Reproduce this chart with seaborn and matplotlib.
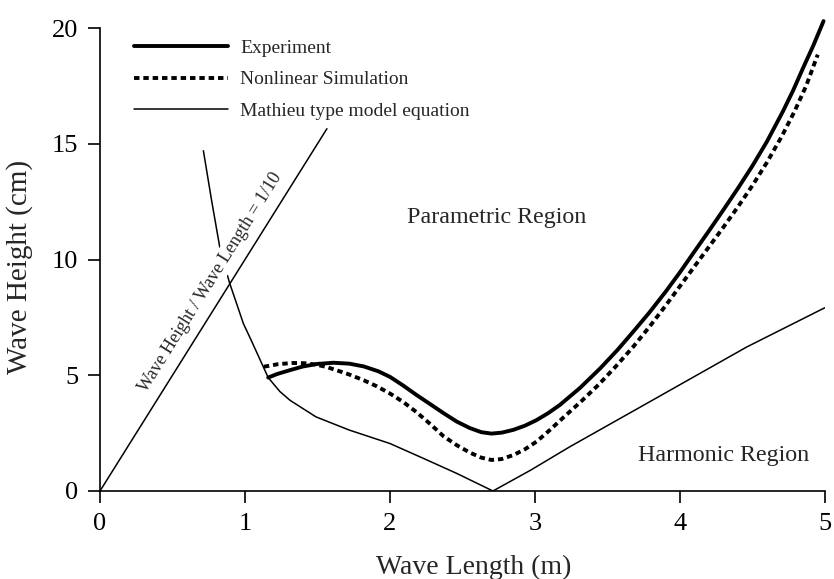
import matplotlib
matplotlib.use("Agg")
import matplotlib.pyplot as plt
import seaborn as sns

# wave height / wave length = 1/10 line
ratio_x = [0.0, 1.565]
ratio_y = [0.0, 15.65]

# experiment (thick solid)
exp_x = [1.16, 1.22, 1.31, 1.40, 1.50, 1.61, 1.72, 1.82, 1.92, 2.00, 2.09,
         2.18, 2.28, 2.37, 2.46, 2.55, 2.63, 2.70, 2.77, 2.85, 2.93, 3.01,
         3.09, 3.17, 3.31, 3.45, 3.57, 3.68, 3.79, 3.90, 4.00, 4.10, 4.20,
         4.30, 4.40, 4.50, 4.60, 4.71, 4.78, 4.85, 4.92, 4.99]
exp_y = [4.90, 5.05, 5.22, 5.38, 5.49, 5.54, 5.50, 5.38, 5.17, 4.93, 4.56,
         4.16, 3.74, 3.36, 3.00, 2.72, 2.54, 2.48, 2.52, 2.64, 2.82, 3.06,
         3.36, 3.71, 4.45, 5.30, 6.10, 6.90, 7.72, 8.60, 9.45, 10.35, 11.24,
         12.15, 13.08, 14.05, 15.10, 16.40, 17.30, 18.29, 19.25, 20.30]

# nonlinear simulation (dashed)
sim_x = [1.13, 1.23, 1.33, 1.41, 1.49, 1.56, 1.63, 1.72, 1.82, 1.91, 2.00,
         2.09, 2.18, 2.28, 2.37, 2.46, 2.55, 2.63, 2.70, 2.77, 2.85, 2.93,
         3.01, 3.10, 3.20, 3.32, 3.44, 3.56, 3.68, 3.79, 3.90, 4.00, 4.10,
         4.20, 4.30, 4.40, 4.50, 4.60, 4.70, 4.79, 4.87, 4.95]
sim_y = [5.37, 5.48, 5.53, 5.52, 5.46, 5.36, 5.22, 5.03, 4.78, 4.52, 4.21,
         3.85, 3.42, 2.88, 2.36, 1.98, 1.66, 1.44, 1.34, 1.38, 1.55, 1.80,
         2.13, 2.62, 3.20, 3.88, 4.60, 5.40, 6.25, 7.10, 8.00, 8.85, 9.70,
         10.55, 11.40, 12.28, 13.20, 14.20, 15.30, 16.40, 17.50, 18.85]

# Mathieu type model equation (thin solid)
mat_x = [0.713, 0.77, 0.828, 0.892, 0.95, 0.989, 1.04, 1.08, 1.12, 1.16, 1.24,
         1.31, 1.49, 1.72, 2.00, 2.23, 2.46, 2.71, 2.97, 3.24, 3.77, 4.46, 5.00]
mat_y = [14.70, 12.54, 10.46, 9.02, 7.95, 7.23, 6.55, 6.00, 5.45, 4.90, 4.30,
         3.92, 3.20, 2.63, 2.05, 1.41, 0.76, 0.00, 0.90, 1.91, 3.78, 6.22, 7.92]

x_ticks = [0, 1, 2, 3, 4, 5]
y_ticks = [0, 5, 10, 15, 20]

sns.set_style("ticks")
plt.rcParams["font.family"] = ["Liberation Serif", "DejaVu Serif"]

fig = plt.figure(figsize=(8.34, 5.79), dpi=100)
ax = fig.add_axes([0.1199, 0.152, 0.8693, 0.7996])

sns.lineplot(x=mat_x, y=mat_y, ax=ax, sort=False, estimator=None, color="black",
             lw=1.1, label="Mathieu type model equation", zorder=2)
sns.lineplot(x=ratio_x, y=ratio_y, ax=ax, sort=False, estimator=None, color="black",
             lw=1.1, zorder=4)
sns.lineplot(x=sim_x, y=sim_y, ax=ax, sort=False, estimator=None, color="black",
             lw=2.8, linestyle=(0, (1.4, 1.0)), label="Nonlinear Simulation", zorder=5,
             clip_on=False)
sns.lineplot(x=exp_x, y=exp_y, ax=ax, sort=False, estimator=None, color="black",
             lw=2.8, label="Experiment", zorder=5, clip_on=False)

ax.set_xlim(0, 5)
ax.set_ylim(0, 20)
ax.set_xticks(x_ticks)
ax.set_yticks(y_ticks)
ax.tick_params(direction="out", length=8.6, width=1.2, labelsize=19, pad=7,
               colors="black")
for side in ["top", "right"]:
    ax.spines[side].set_visible(False)
for side in ["left", "bottom"]:
    ax.spines[side].set_linewidth(1.2)
    ax.spines[side].set_color("black")

ax.set_xlabel("Wave Length (m)", fontsize=20)
ax.set_ylabel("Wave Height (cm)", fontsize=21)
ax.xaxis.set_label_coords(0.516, -0.138)
ax.yaxis.set_label_coords(-0.092, 0.483)

ax.text(2.12, 11.8, "Parametric Region", fontsize=17.3, va="center", ha="left")
ax.text(3.71, 1.55, "Harmonic Region", fontsize=17.3, va="center", ha="left")
ax.text(0.76, 9.0, "Wave Height / Wave Length = 1/10", fontsize=13, rotation=58,
        ha="center", va="center", rotation_mode="anchor", zorder=3,
        bbox=dict(facecolor="white", edgecolor="none", pad=1.5))

handles, labels = ax.get_legend_handles_labels()
order = [labels.index(n) for n in ["Experiment", "Nonlinear Simulation",
                                    "Mathieu type model equation"]]
ax.legend([handles[i] for i in order], [labels[i] for i in order],
          loc="upper left", bbox_to_anchor=(0.023, 1.013), frameon=False,
          fontsize=14, handlelength=4.8, handletextpad=0.65, labelspacing=0.7)

fig.savefig("out.png", dpi=100)
